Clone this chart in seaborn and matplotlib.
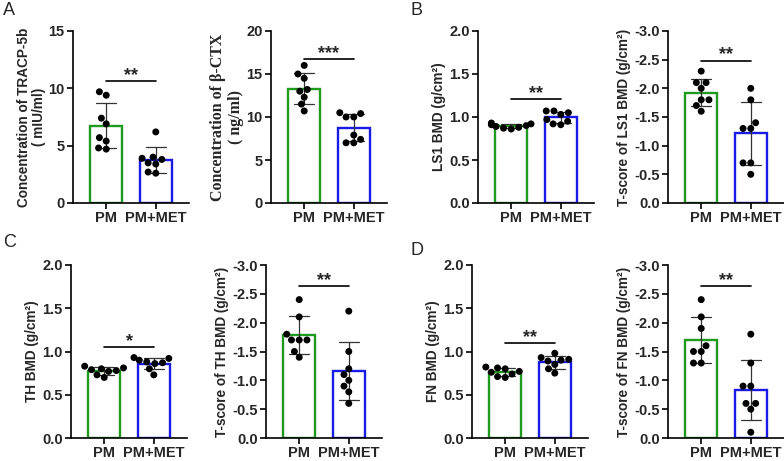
import numpy as np
import pandas as pd
import matplotlib
matplotlib.use("Agg")
import matplotlib.pyplot as plt
from matplotlib.ticker import FormatStrFormatter
import seaborn as sns

sns.set_style("ticks")
plt.rcParams["font.family"] = ["Liberation Sans", "DejaVu Sans"]
plt.rcParams["axes.unicode_minus"] = False

# ---------------- data ----------------
groups = ["PM", "PM+MET"]

tracp_pm = [9.7, 9.4, 7.4, 6.9, 5.7, 5.4, 4.8, 4.7]
tracp_met = [6.2, 4.0, 3.9, 3.8, 3.5, 3.4, 2.7, 2.6]
ctx_pm = [16.0, 15.0, 14.5, 13.2, 13.0, 12.3, 11.5, 10.7]
ctx_met = [10.5, 10.4, 10.0, 10.0, 7.9, 7.4, 7.0, 7.0]
ls1_pm = [0.93, 0.92, 0.91, 0.90, 0.89, 0.88, 0.87, 0.86]
ls1_met = [1.07, 1.07, 1.05, 1.03, 0.97, 0.95, 0.92, 0.91]
ls1t_pm = [-2.3, -2.1, -2.1, -2.0, -1.8, -1.8, -1.7, -1.6]
ls1t_met = [-2.0, -1.8, -1.4, -1.3, -1.3, -0.7, -0.7, -0.5]
th_pm = [0.83, 0.81, 0.80, 0.79, 0.78, 0.77, 0.73, 0.70]
th_met = [0.93, 0.92, 0.90, 0.88, 0.87, 0.86, 0.80, 0.73]
tht_pm = [-2.4, -2.1, -1.8, -1.7, -1.7, -1.7, -1.5, -1.4]
tht_met = [-2.2, -1.5, -1.2, -1.1, -1.0, -0.9, -0.8, -0.6]
fn_pm = [0.82, 0.81, 0.80, 0.77, 0.76, 0.74, 0.71, 0.70]
fn_met = [0.98, 0.93, 0.91, 0.90, 0.89, 0.85, 0.80, 0.75]
fnt_pm = [-2.4, -2.1, -1.9, -1.6, -1.5, -1.5, -1.3, -1.3]
fnt_met = [-1.8, -1.3, -0.9, -0.9, -0.6, -0.6, -0.5, -0.1]

ylabels = [
    "Concentration of TRACP-5b\n( mIU/ml)",
    "Concentration of \u03b2-CTX\n( ng/ml)",
    "LS1 BMD (g/cm\u00b2)",
    "T-score of LS1 BMD (g/cm\u00b2)",
    "TH BMD (g/cm\u00b2)",
    "T-score of TH BMD (g/cm\u00b2)",
    "FN BMD (g/cm\u00b2)",
    "T-score of FN BMD (g/cm\u00b2)",
]
ylims = [(0, 15), (0, 20), (0, 2), (0, -3), (0, 2), (0, -3), (0, 2), (0, -3)]
ysteps = [5, 5, 0.5, -0.5, 0.5, -0.5, 0.5, -0.5]
sig_y = [10.6, 16.7, 1.21, -2.48, 1.05, -2.63, 1.095, -2.63]
sig_text = ["**", "***", "**", "**", "*", "**", "**", "**"]
panel_letters = ["A", "B", "C", "D"]

series = [
    (tracp_pm, tracp_met), (ctx_pm, ctx_met), (ls1_pm, ls1_met), (ls1t_pm, ls1t_met),
    (th_pm, th_met), (tht_pm, tht_met), (fn_pm, fn_met), (fnt_pm, fnt_met),
]

# ---------------- layout ----------------
W, H = 784, 461
fig = plt.figure(figsize=(W / 100, H / 100), dpi=100)
lefts = [73, 271, 478, 668, 71, 266, 472, 668]
tops = [31, 31, 31, 31, 265, 265, 265, 265]
bottoms = [203, 203, 203, 203, 438, 438, 438, 438]
aw = 116

green = "#1e9a1e"
blue = "#1a1ae6"

for i in range(8):
    l, t, b = lefts[i], tops[i], bottoms[i]
    ax = fig.add_axes([l / W, 1 - b / H, aw / W, (b - t) / H])
    a, m = series[i]
    df = pd.DataFrame({"group": [groups[0]] * len(a) + [groups[1]] * len(m),
                       "value": list(a) + list(m)})
    sns.barplot(data=df, x="group", y="value", hue="group", order=groups,
                hue_order=groups, palette=[green, blue], fill=False, width=0.64,
                errorbar="sd", capsize=0.4, linewidth=1.7, legend=False,
                err_kws={"color": "#333333", "linewidth": 0.9}, ax=ax)
    sns.swarmplot(data=df, x="group", y="value", order=groups, color="black",
                  size=5.0, linewidth=0.3, edgecolor="none", ax=ax, zorder=3)
    for coll in ax.collections:
        coll.set_edgecolor("none")

    ax.set_xlim(-0.67, 1.67)
    ax.set_ylim(*ylims[i])
    lo, hi = ylims[i]
    ax.set_yticks(np.arange(0, hi + ysteps[i] / 2, ysteps[i]))
    if i in (0, 1):
        ax.yaxis.set_major_formatter(FormatStrFormatter("%d"))
    else:
        ax.yaxis.set_major_formatter(FormatStrFormatter("%.1f"))
    ax.set_xlabel("")
    sns.despine(ax=ax)
    for s in ("left", "bottom"):
        ax.spines[s].set_linewidth(1.2)
        ax.spines[s].set_color("black")
    ax.tick_params(axis="both", width=1.2, length=4, labelsize=10.5, color="black",
                   pad=2)
    for lab in ax.get_xticklabels() + ax.get_yticklabels():
        lab.set_fontweight("bold")
    if i == 1:
        ax.set_ylabel(ylabels[i], family=["Liberation Serif", "DejaVu Serif"],
                      fontsize=11.5, fontweight="bold", labelpad=2, linespacing=1.1)
    else:
        ax.set_ylabel(ylabels[i], fontsize=9.8, fontweight="bold", labelpad=2,
                      linespacing=1.1)

    # significance bar
    ax.plot([0, 1], [sig_y[i], sig_y[i]], color="black", lw=1.2)
    ax.annotate(sig_text[i], xy=(0.5, sig_y[i]), xytext=(0, -2),
                textcoords="offset points", ha="center", va="bottom",
                fontsize=13, fontweight="bold")

letter_pos = [(3, 2), (410, 2), (3, 234), (410, 242)]
for (x, y), lt in zip(letter_pos, panel_letters):
    fig.text(x / W, 1 - y / H, lt, fontsize=13, va="top", ha="left")

fig.savefig("out.png", dpi=100)
